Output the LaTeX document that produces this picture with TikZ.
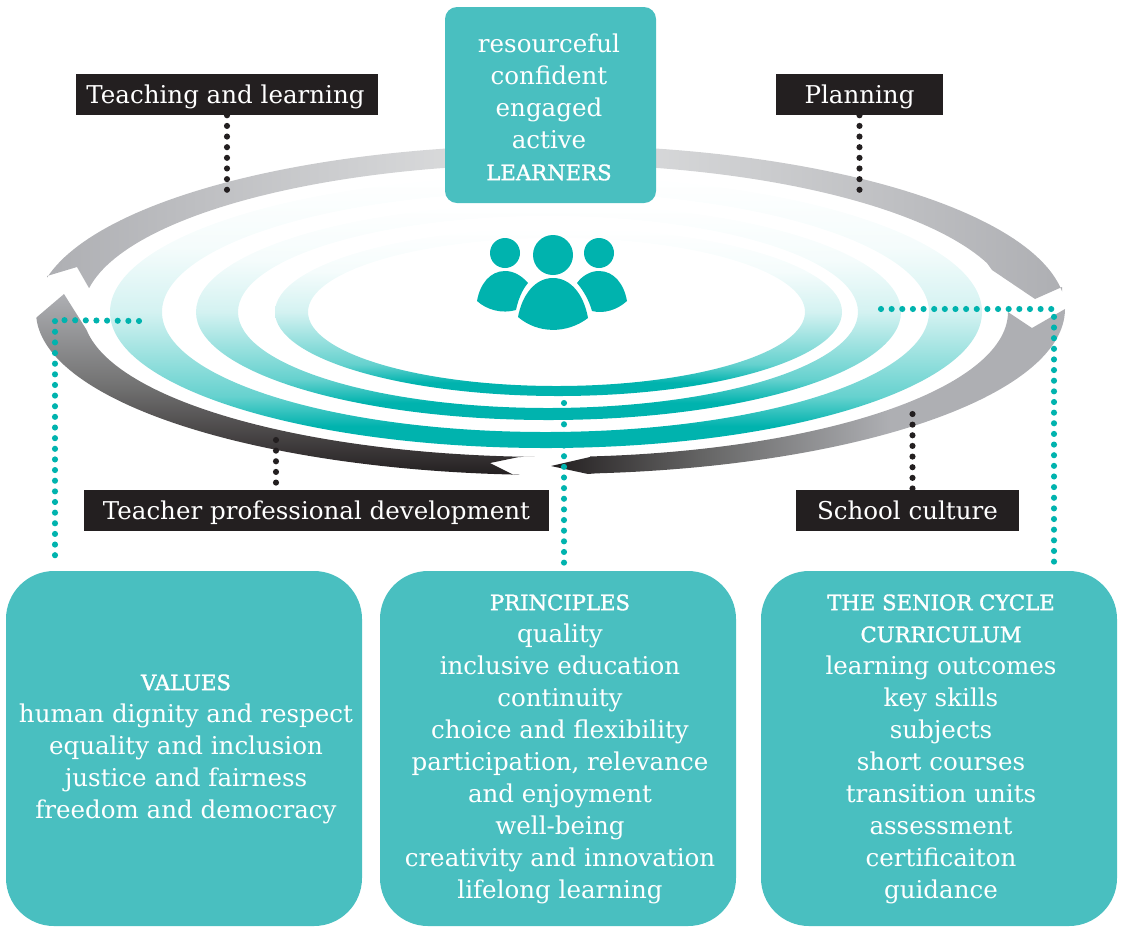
\documentclass[tikz,border=0pt]{standalone}
\usepackage{fontspec}
\setmainfont{DejaVu Serif}
\newfontfamily\hdfont[FakeBold=1.5]{DejaVu Serif}
\definecolor{tealbox}{HTML}{49BFC0}
\definecolor{tealdark}{HTML}{00B3AE}
\definecolor{blackbox}{HTML}{231F20}
\definecolor{grA}{HTML}{DCDDDE}
\definecolor{grB}{HTML}{AEAFB3}
\pgfdeclareverticalshading{ringshade}{100bp}{color(0bp)=(tealdark);color(25bp)=(tealdark);color(29bp)=(tealdark);color(34.5bp)=(tealdark!60);color(50bp)=(tealdark!17);color(62bp)=(tealdark!4);color(75bp)=(white);color(100bp)=(white)}
\pgfdeclarehorizontalshading{topleftshade}{100bp}{color(0bp)=(grB);color(25bp)=(grB);color(75bp)=(grA);color(100bp)=(grA)}
\pgfdeclarehorizontalshading{toprightshade}{100bp}{color(0bp)=(grA);color(25bp)=(grA);color(75bp)=(grB);color(100bp)=(grB)}
\pgfdeclareverticalshading{botleftshade}{100bp}{color(0bp)=(blackbox);color(25bp)=(blackbox);color(35bp)=(blackbox!85!white);color(50bp)=(gray!90!black);color(75bp)=(grB);color(100bp)=(grB)}
\pgfdeclarehorizontalshading{botrightshade}{100bp}{color(0bp)=(blackbox);color(25bp)=(blackbox);color(40bp)=(gray!80!black);color(58bp)=(grB);color(100bp)=(grB)}
\tikzset{
  x=0.75pt,y=-0.75pt,
  txt/.style={font=\fontsize{18.4pt}{24pt}\selectfont,text=white,align=center,inner sep=0pt},
  tealpanel/.style={fill=tealbox,rounded corners=36pt},
  blackpanel/.style={fill=blackbox},
  blacklabel/.style={txt,text height=12.8pt,text depth=0pt},
  dotsblack/.style={draw=blackbox,line width=4.6pt,line cap=round,dash pattern=on 0pt off 7.98pt},
  dotsteal/.style={draw=tealdark,line width=4.6pt,line cap=round,dash pattern=on 0pt off 7.98pt},
  person/.style={fill=tealdark},
}
\newcommand{\Hd}[1]{{\hdfont\fontsize{15.9pt}{24pt}\selectfont #1}}
\begin{document}
\begin{tikzpicture}
\useasboundingbox (0,0) rectangle (1121,926);
% rings
\path[shading=ringshade,even odd rule] (546,312) ellipse [x radius=436,y radius=136] (545.5,312) ellipse [x radius=383.5,y radius=120];
\path[shading=ringshade,even odd rule] (548.5,312) ellipse [x radius=352.5,y radius=108] (548,312) ellipse [x radius=310,y radius=96];
\path[shading=ringshade,even odd rule] (558.5,312) ellipse [x radius=283.5,y radius=84] (556.5,312) ellipse [x radius=248.5,y radius=74];
% arrow arcs
\path[shading=topleftshade] (47,276)
  -- plot[domain=191.9:262,samples=50] ({551+515*cos(\x)},{312+167*sin(\x)})
  -- plot[domain=262:189.5,samples=50] ({551+468*cos(\x)},{312+148*sin(\x)})
  -- (89,288) -- (77,267) -- cycle;
\path[shading=toprightshade] (1062,287)
  -- plot[domain=-7:-85,samples=50] ({551+515*cos(\x)},{312+167*sin(\x)})
  -- plot[domain=-85:-19.3,samples=50] ({551+462*cos(\x)},{312+148*sin(\x)})
  -- (992,270) -- (1035,299) -- cycle;
\path[shading=botleftshade] (37,317)
  -- plot[domain=178:93.5,samples=60] ({551+515*cos(\x)},{312+163*sin(\x)})
  -- (514,475) -- (490,463) -- (519,457)
  -- plot[domain=92:172.9,samples=60] ({551+468*cos(\x)},{312+145*sin(\x)})
  -- (64,294) -- cycle;
\path[shading=botrightshade] (1065,309)
  -- plot[domain=0:85,samples=60] ({551+514*cos(\x)},{309+165*sin(\x)})
  -- (588,474) -- (551,466) -- (590,457)
  -- plot[domain=85.1:0,samples=60] ({551+457*cos(\x)},{312+145*sin(\x)})
  -- (1032,328) -- cycle;
% people
\fill[person] (505,253) circle [radius=15];
\fill[person] (599,253) circle [radius=15];
\fill[person] (553,255) circle [radius=20];
\fill[person] (518,317) .. controls (522,295) and (535,278) .. (553,278) .. controls (571,278) and (584,295) .. (588,318) .. controls (567,334) and (538,334) .. (518,317) -- cycle;
\fill[person] (477,301) .. controls (480,284) and (490,271) .. (505,271) .. controls (514,271) and (522,276) .. (528,283) .. controls (522,290) and (518,300) .. (516,310) .. controls (502,314) and (487,310) .. (477,301) -- cycle;
\fill[person] (627,301) .. controls (624,284) and (614,271) .. (599,271) .. controls (590,271) and (582,276) .. (577,283) .. controls (583,290) and (589,300) .. (592,311) .. controls (604,314) and (617,310) .. (627,301) -- cycle;
% top box
\node[tealpanel,rounded corners=9pt,minimum width=158.25pt,minimum height=147pt,inner sep=0pt] (learners) at (550.5,105) {};
\node[txt] (learnerstxt) at (549,107) {resourceful\\confident\\engaged\\active\\\Hd{LEARNERS}};
% black labels
\node[blackpanel,minimum width=226.5pt,minimum height=30.75pt,inner sep=0pt] (tl) at (227,94.5) {};
\node[blacklabel] (tltxt) at (225.5,94.5) {Teaching and learning};
\node[blackpanel,minimum width=125.25pt,minimum height=30.75pt,inner sep=0pt] (pl) at (859.5,94.5) {};
\node[blacklabel] (pltxt) at (pl.center) {Planning};
\node[blackpanel,minimum width=348.75pt,minimum height=30.75pt,inner sep=0pt] (tpd) at (316.5,510.5) {};
\node[blacklabel] (tpdtxt) at (tpd.center) {Teacher professional development};
\node[blackpanel,minimum width=167.25pt,minimum height=30.75pt,inner sep=0pt] (sc) at (907.5,510.5) {};
\node[blacklabel] (sctxt) at (sc.center) {School culture};
% bottom panels
\node[tealpanel,minimum width=267pt,minimum height=266.25pt,inner sep=0pt] (values) at (184,748.5) {};
\node[txt] (valuestxt) at (186,749) {\Hd{VALUES}\\human dignity and respect\\equality and inclusion\\justice and fairness\\freedom and democracy};
\node[tealpanel,minimum width=267pt,minimum height=266.25pt,inner sep=0pt] (principles) at (558,748.5) {};
\node[txt] (principlestxt) at (560,749) {\Hd{PRINCIPLES}\\quality\\inclusive education\\continuity\\choice and flexibility\\participation, relevance\\and enjoyment\\well-being\\creativity and innovation\\lifelong learning};
\node[tealpanel,minimum width=267pt,minimum height=266.25pt,inner sep=0pt] (curriculum) at (939,748.5) {};
\node[txt] (curriculumtxt) at (941,749) {\Hd{THE SENIOR CYCLE}\\\Hd{CURRICULUM}\\learning outcomes\\key skills\\subjects\\short courses\\transition units\\assessment\\certificaiton\\guidance};
% connectors
\coordinate (tlend) at (227,190);
\coordinate (plend) at (859.5,190);
\coordinate (tpdend) at (276,440);
\coordinate (scend) at (912.5,414);
\draw[dotsblack] (tl.south -| tlend) -- (tlend);
\draw[dotsblack] (pl.south -| plend) -- (plend);
\draw[dotsblack] (tpdend) -- (tpdend |- tpd.north);
\draw[dotsblack] (scend) -- (scend |- sc.north);
\coordinate (vstart) at (139,321);
\coordinate (vcorner) at (55,320);
\coordinate (pstart) at (564,403);
\coordinate (cstart) at (881,309);
\coordinate (ccorner) at (1054,309);
\draw[dotsteal] (vstart) -- (vcorner) -- ([yshift=6pt]vcorner |- values.north);
\draw[dotsteal] (pstart) -- ([yshift=6pt]pstart |- principles.north);
\draw[dotsteal] (cstart) -- (ccorner) -- ([yshift=6pt]ccorner |- curriculum.north);
\end{tikzpicture}
\end{document}
